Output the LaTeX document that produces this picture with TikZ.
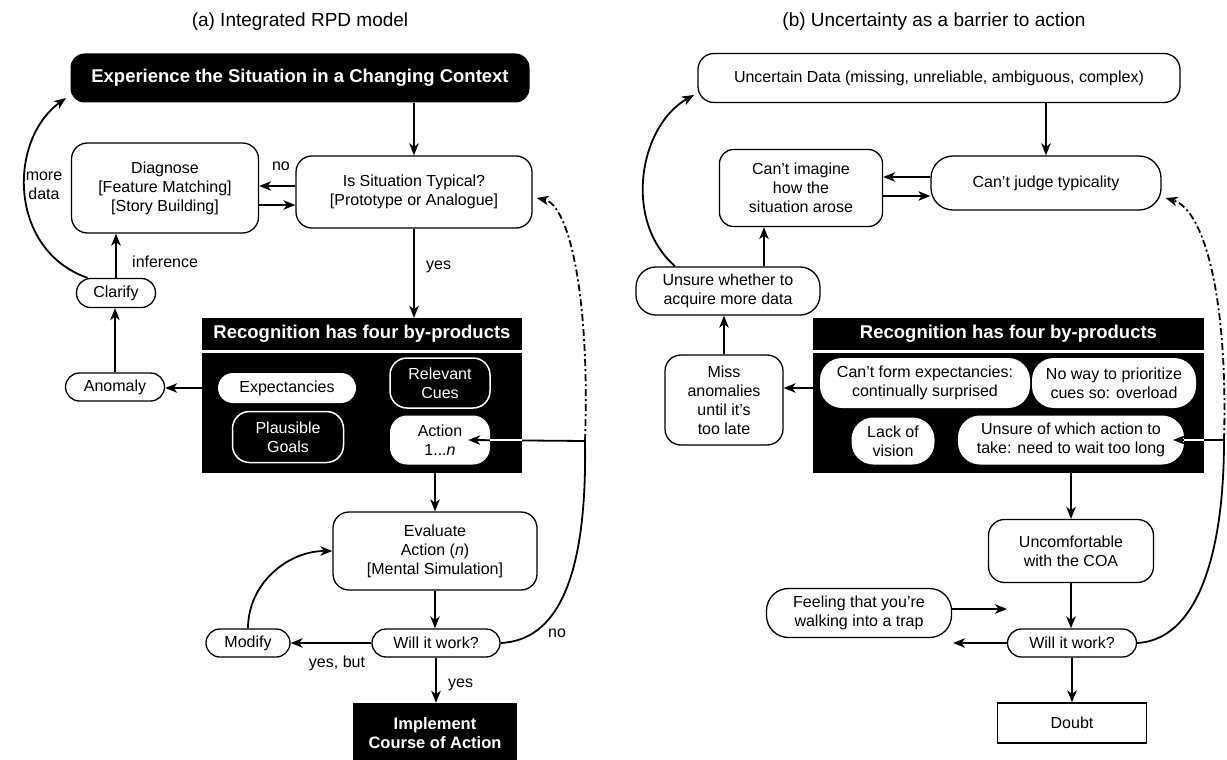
\documentclass[tikz,border=0pt]{standalone}
\usepackage{fontspec}
\setmainfont{Liberation Sans}
\usetikzlibrary{arrows.meta}
\begin{document}
\begin{tikzpicture}[x=1pt,y=-1pt,
  every node/.style={inner sep=0pt, align=center, font=\fontsize{16}{19}\selectfont},
  wbox/.style={draw, line width=1.3pt, rounded corners=#1, fill=white},
  wbox/.default=14pt,
  blk/.style={fill=black, text=white, font=\fontsize{18.5}{21}\selectfont\bfseries},
  inw/.style={fill=white, rounded corners=#1},
  inw/.default=17pt,
  inb/.style={fill=black, draw=white, line width=1.5pt, text=white, rounded corners=17pt},
  tip/.tip={Stealth[length=12pt,width=9.5pt,inset=3.5pt]},
  arr/.style={line width=1.8pt, -tip},
  ln/.style={line width=1.8pt},
  dd/.style={line width=1.8pt, dash pattern=on 7pt off 3pt on 2pt off 3pt},
  ttl/.style={font=\fontsize{19}{22}\selectfont},
  lbl/.style={font=\fontsize{16}{19}\selectfont}
]
\useasboundingbox (0,0) rectangle (1227,760);

% ================= LEFT PANEL =================
\node[ttl] (ta) at (300,22) {(a) Integrated RPD model};

\node[blk, rounded corners=14pt, minimum width=459pt, minimum height=49pt] (exp) at (300,78) {Experience the Situation in a Changing Context};
\node[wbox=16pt, minimum width=236pt, minimum height=72pt] (typ) at (414,192) {Is Situation Typical?\\{[Prototype or Analogue]}};
\node[wbox=16pt, minimum width=187pt, minimum height=90pt] (diag) at (165,188) {Diagnose\\{[Feature Matching]}\\{[Story Building]}};
\node[wbox=14pt, minimum width=79pt, minimum height=29pt] (clar) at (116,293) {Clarify};
\node[wbox=14pt, minimum width=99pt, minimum height=28pt] (anom) at (115,387) {Anomaly};

\node[blk, minimum width=320pt, minimum height=32pt] (rh) at (362,334) {Recognition has four by-products};
\node[fill=black, minimum width=320pt, minimum height=120pt] (rb) at (362,413) {};
\node[inw=15pt, minimum width=138pt, minimum height=30pt] (expc) at (287,388) {Expectancies};
\node[inb, minimum width=100pt, minimum height=50pt] (cues) at (440,383) {Relevant\\Cues};
\node[inb, minimum width=111pt, minimum height=51pt] (goals) at (288,437) {Plausible\\Goals};
\node[inw, minimum width=100pt, minimum height=49pt] (act) at (440,440) {Action\\1...\textit{n}};

\node[wbox=16pt, minimum width=204pt, minimum height=78pt] (ev) at (435,551) {Evaluate\\Action (\textit{n})\\{[Mental Simulation]}};
\node[wbox=14pt, minimum width=128pt, minimum height=28pt] (will) at (436,643) {Will it work?};
\node[wbox=14pt, minimum width=84pt, minimum height=28pt] (mod) at (248,643) {Modify};
\node[fill=black, minimum width=164pt, minimum height=62pt] (impl) at (435,734) {};
\node[text=white, font=\fontsize{16.5}{19}\selectfont\bfseries] (implt) at (435,733) {Implement\\Course of Action};

\coordinate (t1) at (66,98);
\coordinate (J1) at (585,441);

\draw[arr] (typ.north |- exp.south) -- (typ.north);
\draw[arr] ([yshift=6pt]typ.west) -- ([yshift=6pt]typ.west -| diag.east);
\draw[arr] ([yshift=-17pt]diag.east) -- ([yshift=-17pt]diag.east -| typ.west);
\draw[arr] (typ.south) -- (typ.south |- rh.north);
\draw[arr] (clar.north) -- (clar.north |- diag.south);
\draw[arr] (anom.north) -- (anom.north |- clar.south);
\draw[arr] (expc.west) -- (expc.west -| anom.east);
\draw[arr] (clar.152) .. controls (8,250) and (8,140) .. (t1);
\draw[arr] (ev.north |- rb.south) -- (ev.north);
\draw[arr] (ev.south) -- (ev.south |- will.north);
\draw[arr] (will.west) -- (mod.east);
\draw[arr] (will.south) -- (will.south |- impl.north);
\draw[arr] (mod.north) to[out=90,in=180] (ev.west);
\draw[ln] (will.east) .. controls (565,640) and (587,560) .. (J1);
\draw[arr] (J1) -- ([xshift=-22pt]act.east);
\draw[white, line width=1.6pt] (act.east -| rb.east) -- (act.east);
\draw[dd, -tip] (J1) .. controls (590,300) and (570,205) .. ([xshift=4pt,yshift=-6pt]typ.east);

\node[lbl] (lno1) at (281,166) {no};
\node[lbl] (lmore) at (44,186) {more\\data};
\node[lbl, anchor=west] (linf) at (132,262) {inference};
\node[lbl, anchor=west] (lyes1) at (426,267) {yes};
\node[lbl] (lno2) at (557,633) {no};
\node[lbl] (lyb) at (337,663) {yes, but};
\node[lbl, anchor=west] (lyes2) at (448,685) {yes};

% ================= RIGHT PANEL =================
\node[ttl] (tb) at (934,22) {(b) Uncertainty as a barrier to action};

\node[wbox=16pt, minimum width=482pt, minimum height=49pt] (unc) at (939,78) {Uncertain Data (missing, unreliable, ambiguous, complex)};
\node[wbox=22pt, minimum width=230pt, minimum height=54pt] (judge) at (1046,183) {Can't judge typicality};
\node[wbox=14pt, minimum width=163pt, minimum height=77pt] (imag) at (801,188) {Can't imagine\\how the\\situation arose};
\node[wbox=20pt, minimum width=184pt, minimum height=48pt] (unsure) at (728,291) {Unsure whether to\\acquire more data};
\node[wbox=16pt, minimum width=118pt, minimum height=90pt] (miss) at (724,400) {Miss\\anomalies\\until it's\\too late};

\node[blk, minimum width=391pt, minimum height=32pt] (rh2) at (1008.5,334) {Recognition has four by-products};
\node[fill=black, minimum width=391pt, minimum height=120pt] (rb2) at (1008.5,413) {};
\node[inw=22pt, minimum width=210pt, minimum height=50pt] (form) at (925,383) {Can't form expectancies:\\continually surprised};
\node[inw=22pt, minimum width=164pt, minimum height=50pt] (prior) at (1114,383) {No way to prioritize\\cues so: overload};
\node[inw=22pt, minimum width=83pt, minimum height=47pt] (lack) at (893,441) {Lack of\\vision};
\node[inw=22pt, minimum width=226pt, minimum height=49pt] (which) at (1071,440) {Unsure of which action to\\take: need to wait too long};

\node[wbox=16pt, minimum width=165pt, minimum height=63pt] (uncomf) at (1071,551) {Uncomfortable\\with the COA};
\node[wbox=14pt, minimum width=129pt, minimum height=28pt] (will2) at (1072,643) {Will it work?};
\node[wbox=22pt, minimum width=185pt, minimum height=49pt] (feel) at (859,613) {Feeling that you're\\walking into a trap};
\node[draw, line width=1.3pt, fill=white, minimum width=149pt, minimum height=40pt] (doubt) at (1072,723) {Doubt};

\coordinate (t2) at (694,95);
\coordinate (J2) at (1224,440);
\coordinate (f1) at (1007,609);
\coordinate (f2) at (953,643);
\coordinate (ux) at (764,0);

\draw[arr] (judge.north |- unc.south) -- (judge.north);
\draw[arr] ([yshift=6pt]judge.west) -- ([yshift=6pt]judge.west -| imag.east);
\draw[arr] ([yshift=-8pt]imag.east) -- ([yshift=-8pt]imag.east -| judge.west);
\draw[arr] (unsure.north -| ux) -- (imag.south -| ux);
\draw[arr] (unsure.155) .. controls (622,220) and (640,125) .. (t2);
\draw[arr] (miss.north) -- (miss.north |- unsure.south);
\draw[arr] ([yshift=-5pt]form.west) -- ([yshift=-5pt]form.west -| miss.east);
\draw[arr] (uncomf.north |- rb2.south) -- (uncomf.north);
\draw[arr] (uncomf.south) -- (uncomf.south |- will2.north);
\draw[arr] (will2.south) -- (doubt.north);
\draw[arr] (feel.east |- f1) -- (f1);
\draw[arr] (will2.west) -- (f2);
\draw[ln] (will2.east) .. controls (1195,640) and (1224,560) .. (J2);
\draw[arr] (J2) -- ([xshift=-11pt]which.east);
\draw[white, line width=1.6pt] (which.east -| rb2.east) -- (which.east);
\draw[dd, -tip] (J2) .. controls (1228,300) and (1205,210) .. ([xshift=4pt,yshift=-15pt]judge.east);
\end{tikzpicture}
\end{document}
